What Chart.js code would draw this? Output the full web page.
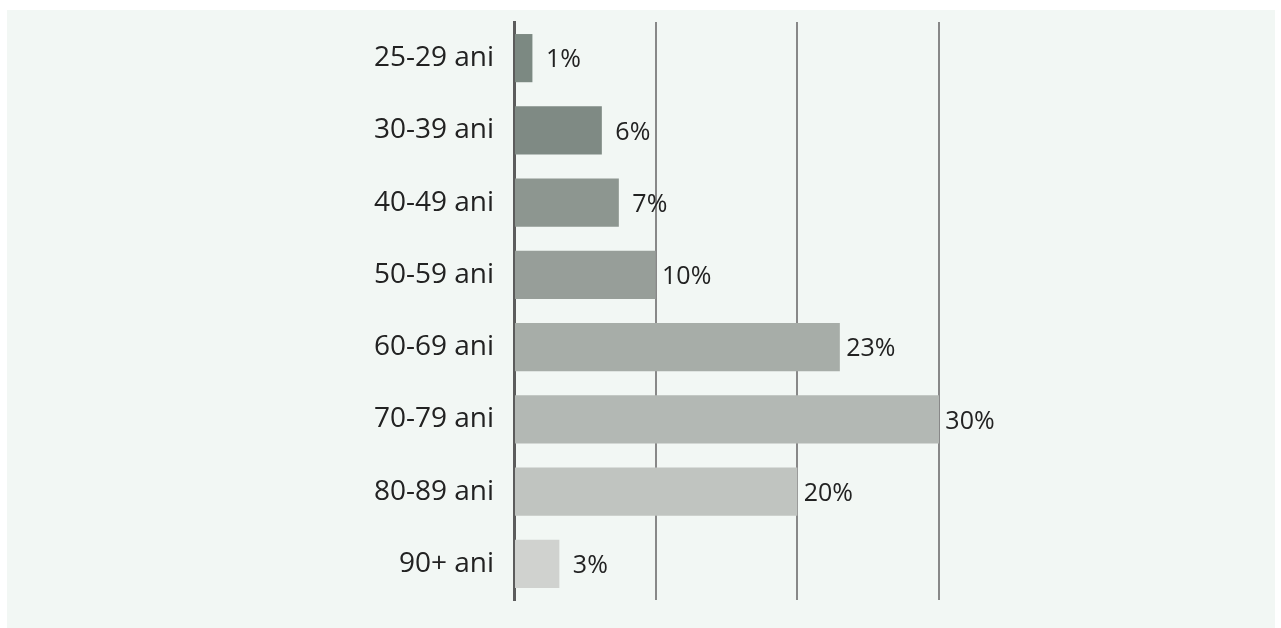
<!DOCTYPE html>
<html>
<head>
<meta charset="utf-8">
<script src="https://cdn.jsdelivr.net/npm/chart.js@4/dist/chart.umd.min.js"></script>
<style>
  html, body { margin: 0; padding: 0; background: #ffffff; }
  #panel {
    position: absolute; left: 7px; top: 10px; width: 1268px; height: 618px;
    background: #f2f7f4;
  }
  #wrap { position: absolute; left: 0; top: 0; width: 1281px; height: 628px; }
</style>
</head>
<body>
<div id="panel"></div>
<div id="wrap"><canvas id="ageChart"></canvas></div>
<script>
// age groups and share of respondents (%)
const categories = ['25-29 ani', '30-39 ani', '40-49 ani', '50-59 ani', '60-69 ani', '70-79 ani', '80-89 ani', '90+ ani'];
const values = [1.3, 6.2, 7.4, 10, 23, 30, 20, 3.2];
const valueLabels = ['1%', '6%', '7%', '10%', '23%', '30%', '20%', '3%'];
const barColors = ['#7c8982', '#7f8a84', '#8d9690', '#979e99', '#a7ada8', '#b3b8b4', '#c0c4c0', '#d0d2cf'];
const gridTicks = [0, 10, 20, 30];

const FONT = '"Open Sans", Lato, sans-serif';

// draw the value text right of each bar
const barLabels = {
  id: 'barLabels',
  afterDatasetsDraw(chart) {
    const ctx = chart.ctx;
    const meta = chart.getDatasetMeta(0);
    ctx.save();
    ctx.font = '25px ' + FONT;
    ctx.fillStyle = '#222222';
    ctx.textAlign = 'center';
    ctx.textBaseline = 'middle';
    meta.data.forEach((bar, i) => {
      ctx.fillText(valueLabels[i], bar.x + 31, bar.y + 2);
    });
    ctx.restore();
  }
};

new Chart(document.getElementById('ageChart'), {
  type: 'bar',
  data: {
    labels: categories,
    datasets: [{
      data: values,
      backgroundColor: barColors,
      borderWidth: 0,
      categoryPercentage: 1,
      barPercentage: 0.667
    }]
  },
  options: {
    indexAxis: 'y',
    responsive: true,
    maintainAspectRatio: false,
    animation: false,
    layout: { padding: { left: 0, right: 342, top: 22, bottom: 28 } },
    plugins: {
      legend: { display: false },
      tooltip: { enabled: false }
    },
    scales: {
      x: {
        min: 0,
        max: 30,
        afterBuildTicks: (scale) => { scale.ticks = gridTicks.map(v => ({ value: v })); },
        afterFit: (scale) => { scale.height = 0; scale.paddingLeft = 0; scale.paddingRight = 0; },
        ticks: { display: false },
        grid: {
          drawTicks: false,
          lineWidth: 2,
          color: (c) => c.tick && c.tick.value === 0 ? 'rgba(0,0,0,0)' : '#888888'
        },
        border: { display: false }
      },
      y: {
        afterFit: (scale) => {
          scale.width = 514;
          // drop the label half-height padding so the plot spans the full height
          scale.paddingTop = 0;
          scale.paddingBottom = 0;
        },
        grid: { display: false, drawTicks: false },
        border: { display: true, color: '#5c5c5c', width: 3 },
        ticks: {
          padding: 20,
          color: '#222222',
          font: { family: FONT, size: 28 }
        }
      }
    }
  },
  plugins: [barLabels]
});
</script>
</body>
</html>
